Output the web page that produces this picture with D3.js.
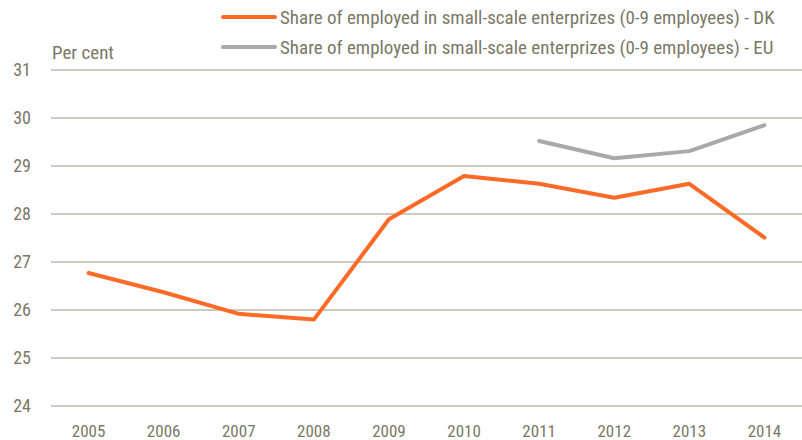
<!DOCTYPE html>
<html><head><meta charset="utf-8">
<script src="https://cdn.jsdelivr.net/npm/d3@7"></script>
<style>
body{margin:0;background:#fff;}
text{font-family:"Liberation Sans Narrow","Arial Narrow","Roboto Condensed",Roboto,sans-serif;fill:#7a7866;}
</style></head><body>
<svg id="c" width="802" height="440"></svg>
<script>
const years = ["2005","2006","2007","2008","2009","2010","2011","2012","2013","2014"];
const dkValues = [26.77, 26.37, 25.92, 25.80, 27.89, 28.79, 28.63, 28.34, 28.63, 27.51];
const euValues = [null, null, null, null, null, null, 29.52, 29.16, 29.31, 29.85];
const yTicks = [24, 25, 26, 27, 28, 29, 30, 31];
const seriesNames = ["Share of employed in small-scale enterprizes (0-9 employees) - DK",
                     "Share of employed in small-scale enterprizes (0-9 employees) - EU"];
const colors = ["#fc6a28", "#a9a9a9"];

const svg = d3.select("#c");
const x = d3.scaleBand().domain(years).range([51, 802]);
const y = d3.scaleLinear().domain([24, 31]).range([406, 70]);

svg.append("g").selectAll("line").data(yTicks).join("line")
  .attr("x1", 51).attr("x2", 802)
  .attr("y1", d => y(d)).attr("y2", d => y(d))
  .attr("stroke", "#bdbaa9").attr("stroke-width", 1.5);

svg.append("g").selectAll("text").data(yTicks).join("text")
  .attr("x", 31).attr("y", d => y(d) + 6)
  .attr("text-anchor", "end").attr("font-size", 18).text(d => d);

svg.append("g").selectAll("text").data(years).join("text")
  .attr("x", d => x(d) + x.bandwidth() / 2).attr("y", 437)
  .attr("text-anchor", "middle").attr("font-size", 17).text(d => d);

svg.append("text").attr("x", 52).attr("y", 59).attr("font-size", 19).text("Per cent");

const line = d3.line()
  .defined(d => d.v != null)
  .x(d => x(d.yr) + x.bandwidth() / 2)
  .y(d => y(d.v));

[dkValues, euValues].forEach((vals, i) => {
  svg.append("path")
    .datum(years.map((yr, j) => ({yr, v: vals[j]})))
    .attr("d", line).attr("fill", "none")
    .attr("stroke", colors[i]).attr("stroke-width", 4)
    .attr("stroke-linecap", "round").attr("stroke-linejoin", "round");
});

seriesNames.forEach((n, i) => {
  const ly = 17 + i * 30;
  svg.append("line").attr("x1", 223).attr("x2", 275).attr("y1", ly).attr("y2", ly)
    .attr("stroke", colors[i]).attr("stroke-width", 4).attr("stroke-linecap", "round");
  svg.append("text").attr("x", 280).attr("y", ly + 7).attr("font-size", 19).text(n);
});
</script>
</body></html>
